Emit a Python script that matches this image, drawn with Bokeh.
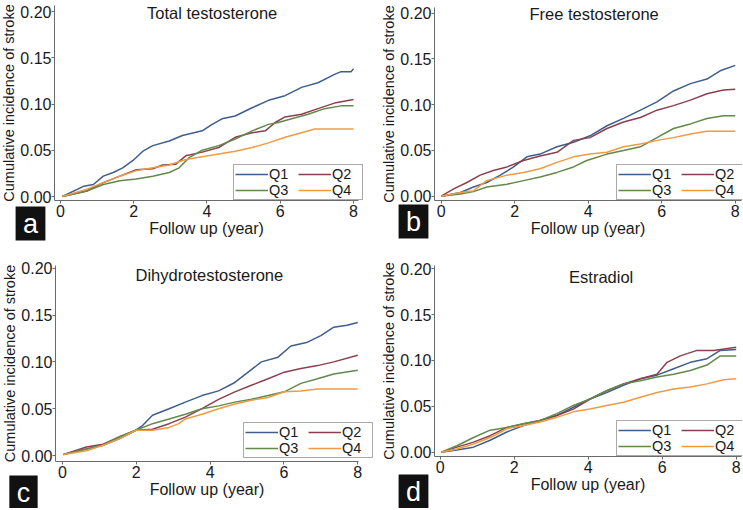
from bokeh.plotting import figure
from bokeh.layouts import column, row
from bokeh.models import Legend, LegendItem, Label, Range1d
from bokeh.embed import file_html
from bokeh.resources import INLINE

quartiles = ["Q1", "Q2", "Q3", "Q4"]
colors = ["#3f5e8c", "#8c3f4e", "#62894c", "#f09a44"]
x_ticks = [0, 2, 4, 6, 8]
y_ticks = [0.0, 0.05, 0.10, 0.15, 0.20]
y_tick_labels = ["0.00", "0.05", "0.10", "0.15", "0.20"]
x_axis_title = "Follow up (year)"
y_axis_title = "Cumulative incidence of stroke"

# ---- (a) Total testosterone ----
tt_q1_t = [0.05, 0.63, 0.9, 1.17, 1.44, 1.7, 1.98, 2.25, 2.52, 2.97, 3.33, 3.87, 4.14, 4.41, 4.77, 5.23, 5.68, 6.13, 6.58, 7.03, 7.48, 7.66, 7.93, 8.0]
tt_q1_v = [0.0, 0.011, 0.013, 0.022, 0.026, 0.031, 0.039, 0.049, 0.055, 0.060, 0.066, 0.071, 0.078, 0.084, 0.087, 0.096, 0.104, 0.109, 0.118, 0.123, 0.132, 0.135, 0.135, 0.138]
tt_q2_t = [0.05, 0.72, 1.17, 1.62, 2.07, 2.52, 2.79, 3.15, 3.42, 3.87, 4.32, 4.77, 5.23, 5.59, 5.86, 6.13, 6.58, 7.03, 7.48, 8.0]
tt_q2_v = [0.0, 0.006, 0.015, 0.022, 0.029, 0.030, 0.034, 0.035, 0.044, 0.048, 0.053, 0.064, 0.069, 0.071, 0.080, 0.086, 0.089, 0.095, 0.101, 0.105]
tt_q3_t = [0.05, 0.72, 1.17, 1.62, 2.07, 2.52, 2.97, 3.24, 3.51, 3.87, 4.32, 4.77, 5.23, 5.68, 5.95, 6.31, 6.76, 7.21, 7.66, 8.0]
tt_q3_v = [0.0, 0.006, 0.013, 0.017, 0.019, 0.022, 0.026, 0.031, 0.042, 0.050, 0.055, 0.062, 0.071, 0.078, 0.080, 0.084, 0.089, 0.095, 0.098, 0.098]
tt_q4_t = [0.05, 0.72, 1.17, 1.62, 2.07, 2.52, 2.97, 3.42, 3.87, 4.32, 4.77, 5.23, 5.68, 6.13, 6.58, 6.94, 8.0]
tt_q4_v = [0.0, 0.008, 0.015, 0.022, 0.028, 0.031, 0.034, 0.040, 0.043, 0.046, 0.049, 0.053, 0.058, 0.064, 0.069, 0.073, 0.073]

# ---- (b) Free testosterone ----
ft_q1_t = [0.0, 0.52, 0.88, 1.24, 1.61, 1.97, 2.33, 2.69, 3.15, 3.60, 4.05, 4.51, 4.96, 5.42, 5.87, 6.32, 6.78, 7.23, 7.59, 8.0]
ft_q1_v = [0.0, 0.004, 0.010, 0.015, 0.023, 0.032, 0.043, 0.046, 0.054, 0.059, 0.066, 0.077, 0.085, 0.094, 0.103, 0.115, 0.123, 0.128, 0.137, 0.143]
ft_q2_t = [0.0, 0.34, 0.70, 1.06, 1.42, 1.79, 2.24, 2.69, 3.15, 3.60, 4.05, 4.51, 4.96, 5.42, 5.87, 6.32, 6.78, 7.23, 7.68, 8.0]
ft_q2_v = [0.0, 0.008, 0.015, 0.023, 0.028, 0.032, 0.039, 0.044, 0.048, 0.061, 0.064, 0.074, 0.081, 0.086, 0.094, 0.099, 0.105, 0.112, 0.116, 0.117]
ft_q3_t = [0.0, 0.52, 0.88, 1.24, 1.79, 2.24, 2.69, 3.15, 3.60, 3.96, 4.51, 4.96, 5.42, 5.87, 6.32, 6.78, 7.23, 7.68, 8.0]
ft_q3_v = [0.0, 0.0025, 0.005, 0.010, 0.013, 0.017, 0.021, 0.026, 0.032, 0.039, 0.046, 0.050, 0.054, 0.064, 0.074, 0.079, 0.085, 0.088, 0.088]
ft_q4_t = [0.0, 0.52, 0.88, 1.24, 1.79, 2.24, 2.69, 3.15, 3.60, 4.05, 4.51, 4.96, 5.42, 5.87, 6.32, 6.78, 7.23, 8.0]
ft_q4_v = [0.0, 0.004, 0.006, 0.017, 0.023, 0.026, 0.030, 0.037, 0.043, 0.046, 0.048, 0.054, 0.057, 0.061, 0.064, 0.068, 0.071, 0.071]

# ---- (c) Dihydrotestosterone ----
dh_q1_t = [0.03, 0.65, 1.10, 1.55, 1.90, 2.17, 2.44, 2.89, 3.33, 3.78, 4.23, 4.67, 5.03, 5.39, 5.84, 6.19, 6.64, 7.0, 7.35, 7.71, 8.0]
dh_q1_v = [0.001, 0.007, 0.011, 0.018, 0.025, 0.032, 0.043, 0.050, 0.057, 0.064, 0.069, 0.078, 0.089, 0.100, 0.105, 0.117, 0.121, 0.128, 0.137, 0.139, 0.142]
dh_q2_t = [0.03, 0.65, 1.10, 1.55, 1.99, 2.44, 2.89, 3.33, 3.78, 4.23, 4.67, 5.12, 5.57, 6.01, 6.46, 6.91, 7.35, 8.0]
dh_q2_v = [0.001, 0.009, 0.012, 0.020, 0.027, 0.028, 0.034, 0.041, 0.050, 0.060, 0.068, 0.075, 0.082, 0.089, 0.093, 0.096, 0.100, 0.107]
dh_q3_t = [0.03, 0.65, 1.10, 1.55, 1.99, 2.44, 2.89, 3.33, 3.78, 4.23, 4.67, 5.12, 5.57, 6.01, 6.46, 6.91, 7.35, 8.0]
dh_q3_v = [0.001, 0.007, 0.011, 0.020, 0.027, 0.034, 0.039, 0.044, 0.050, 0.053, 0.057, 0.060, 0.064, 0.068, 0.077, 0.082, 0.087, 0.091]
dh_q4_t = [0.03, 0.65, 1.10, 1.55, 1.99, 2.44, 2.89, 3.15, 3.33, 3.78, 4.23, 4.67, 5.12, 5.57, 6.01, 6.46, 6.91, 8.0]
dh_q4_v = [0.001, 0.005, 0.011, 0.018, 0.027, 0.027, 0.030, 0.034, 0.039, 0.044, 0.050, 0.055, 0.059, 0.062, 0.068, 0.069, 0.071, 0.071]

# ---- (d) Estradiol ----
es_q1_t = [0.03, 0.45, 0.90, 1.35, 1.80, 2.25, 2.70, 3.15, 3.60, 4.05, 4.50, 4.95, 5.41, 5.86, 6.31, 6.76, 7.21, 7.57, 8.0]
es_q1_v = [0.0, 0.0025, 0.0055, 0.013, 0.022, 0.029, 0.0345, 0.040, 0.049, 0.058, 0.065, 0.073, 0.080, 0.084, 0.091, 0.098, 0.102, 0.111, 0.112]
es_q2_t = [0.03, 0.45, 0.90, 1.35, 1.80, 2.25, 2.70, 3.15, 3.60, 4.05, 4.50, 4.95, 5.41, 5.86, 6.13, 6.49, 6.94, 7.39, 8.0]
es_q2_v = [0.0, 0.0055, 0.011, 0.018, 0.027, 0.031, 0.0345, 0.040, 0.047, 0.058, 0.067, 0.0745, 0.080, 0.085, 0.098, 0.105, 0.111, 0.111, 0.1145]
es_q3_t = [0.03, 0.45, 0.90, 1.35, 1.80, 2.25, 2.70, 3.15, 3.60, 4.05, 4.50, 4.95, 5.41, 5.86, 6.31, 6.76, 7.21, 7.57, 8.0]
es_q3_v = [0.0, 0.007, 0.016, 0.024, 0.027, 0.031, 0.0345, 0.042, 0.051, 0.058, 0.067, 0.0745, 0.078, 0.082, 0.085, 0.089, 0.095, 0.105, 0.105]
es_q4_t = [0.03, 0.45, 0.90, 1.35, 1.80, 2.25, 2.70, 3.15, 3.60, 4.05, 4.50, 4.95, 5.41, 5.86, 6.31, 6.76, 7.21, 7.66, 8.0]
es_q4_v = [0.0, 0.0035, 0.009, 0.016, 0.0255, 0.029, 0.033, 0.038, 0.044, 0.047, 0.051, 0.0545, 0.060, 0.065, 0.069, 0.071, 0.0745, 0.079, 0.080]

FONT = "Liberation Sans"
THIN = "\u2009"
LEGEND_W = 125


def make_panel(title, title_x, title_y, curves, size, box, xr, yr, legend_right, legend_bottom,
               letter, letter_xy):
    W, H = size
    L, R, T, B = box            # pixel box of the axes inside the figure (top-down y)
    x0, x1 = xr
    y0, y1 = yr
    xppu = (R - L) / (x1 - x0)
    yppu = (B - T) / (y1 - y0)
    xs = Range1d(x0 - L / xppu, x1 + (W - R) / xppu)
    ys = Range1d(y0 - (H - B) / yppu, y1 + T / yppu)
    p = figure(width=W, height=H, output_backend="svg", toolbar_location=None,
               x_range=xs, y_range=ys, min_border=0,
               min_border_left=0, min_border_right=0, min_border_top=0, min_border_bottom=0)
    p.outline_line_color = None
    p.grid.visible = False
    p.background_fill_color = "white"
    p.border_fill_color = "white"
    items = []
    for name, col, (t, v) in zip(quartiles, colors, curves):
        r = p.line(t, v, line_color=col, line_width=1.5)
        items.append(LegendItem(label=name, renderers=[r]))
    for ax in (p.xaxis[0], p.yaxis[0]):
        ax.axis_line_color = "#6a6a6a"
        ax.major_tick_line_color = "#6a6a6a"
        ax.major_tick_out = 3
        ax.major_tick_in = 0
        ax.minor_tick_line_color = None
        ax.major_label_text_font = FONT
        ax.major_label_text_font_size = "16px"
        ax.major_label_text_color = "#1a1a1a"
        ax.axis_label_text_font = FONT
        ax.axis_label_text_font_style = "normal"
        ax.axis_label_text_color = "#1a1a1a"
        ax.axis_label_standoff = 0
    p.xaxis.major_label_standoff = 1
    p.yaxis.major_label_standoff = 0
    p.xaxis.fixed_location = y0
    p.xaxis.bounds = (x0, x1)
    p.yaxis.fixed_location = x0
    p.yaxis.bounds = (y0, y1)
    p.xaxis.axis_label_text_font_size = "16px"
    p.yaxis.axis_label_text_font_size = "14.5px"
    p.xaxis.ticker = x_ticks
    p.yaxis.ticker = y_ticks
    p.yaxis.major_label_overrides = {t: l for t, l in zip(y_ticks, y_tick_labels)}
    p.xaxis.axis_label = x_axis_title
    p.yaxis.axis_label = y_axis_title

    leg = Legend(items=items, location=(legend_right - LEGEND_W, H - legend_bottom),
                 orientation="horizontal", ncols=2,
                 margin=0, padding=1, spacing=0, glyph_width=33, glyph_height=10,
                 label_standoff=1, label_height=10, label_width=29,
                 label_text_font=FONT, label_text_font_size="14.5px", label_text_color="#1a1a1a",
                 label_text_line_height=0.9,
                 border_line_color="#555555", border_line_width=1,
                 background_fill_color="white", background_fill_alpha=1.0)
    p.add_layout(leg)

    p.add_layout(Label(x=title_x, y=title_y, text=title, text_align="center",
                       text_baseline="middle", text_font=FONT, text_font_size="16.5px",
                       text_color="#1a1a1a"))
    lx, ly = letter_xy
    p.add_layout(Label(x=lx, y=H - ly, x_units="screen", y_units="screen",
                       text=THIN + letter + THIN, text_align="center", text_baseline="middle",
                       text_font=FONT, text_font_size="27px", text_color="white",
                       background_fill_color="#111111", background_fill_alpha=1.0, padding=2))
    return p


pa = make_panel("Total testosterone", 4.14, 0.198,
                [(tt_q1_t, tt_q1_v), (tt_q2_t, tt_q2_v), (tt_q3_t, tt_q3_v), (tt_q4_t, tt_q4_v)],
                (373, 255), (54, 358, 5, 200), (-0.162, 8.135), (-0.0043, 0.2065),
                358, 200, "a", (30, 223))
pb = make_panel("Free testosterone", 4.16, 0.199,
                [(ft_q1_t, ft_q1_v), (ft_q2_t, ft_q2_v), (ft_q3_t, ft_q3_v), (ft_q4_t, ft_q4_v)],
                (369, 255), (61, 368, 7, 200), (-0.182, 8.17), (-0.0047, 0.2062),
                368, 200, "b", (40, 221))
pc = make_panel("Dihydrotestosterone", 3.98, 0.193,
                [(dh_q1_t, dh_q1_v), (dh_q2_t, dh_q2_v), (dh_q3_t, dh_q3_v), (dh_q4_t, dh_q4_v)],
                (373, 253), (55, 358, 10, 206), (-0.188, 8.02), (-0.0064, 0.2029),
                368, 203, "c", (23, 237))
pd_ = make_panel("Estradiol", 4.35, 0.1915,
                 [(es_q1_t, es_q1_v), (es_q2_t, es_q2_v), (es_q3_t, es_q3_v), (es_q4_t, es_q4_v)],
                 (369, 253), (61, 368, 10, 201), (-0.154, 8.143), (-0.0047, 0.2036),
                 368, 201, "d", (40, 236))

layout = column(row(pa, pb), row(pc, pd_))
open("out.html", "w").write(file_html(layout, INLINE))
